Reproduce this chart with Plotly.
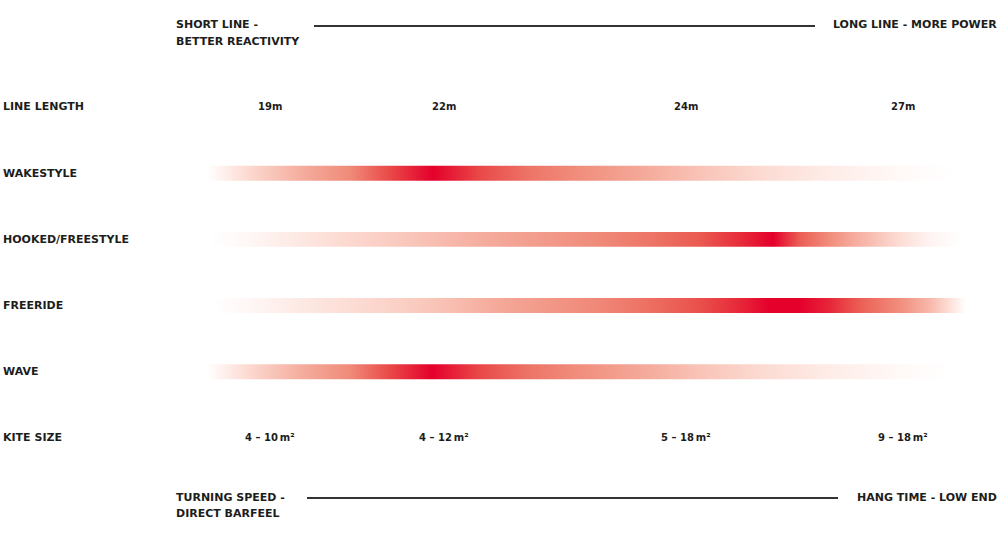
import plotly.graph_objects as go
from plotly.colors import sample_colorscale

# Row labels (top to bottom) and column headers
row_labels = ["LINE LENGTH", "WAKESTYLE", "HOOKED/FREESTYLE", "FREERIDE", "WAVE", "KITE SIZE"]
line_lengths = ["19m", "22m", "24m", "27m"]
kite_sizes = ["4 – 10\u2009m²", "4 – 12\u2009m²", "5 – 18\u2009m²", "9 – 18\u2009m²"]
column_x = [270, 444, 686, 903]

# Intensity profiles of each discipline along the line-length scale (0 = none, 1 = ideal)
wakestyle_x = [207, 250, 300, 350, 390, 433, 480, 530, 580, 640, 700, 760, 830, 900, 955]
wakestyle_level = [0, 0.25, 0.45, 0.62, 0.85, 1, 0.85, 0.7, 0.6, 0.48, 0.35, 0.24, 0.12, 0.04, 0]

hooked_x = [210, 250, 300, 350, 400, 450, 490, 550, 600, 650, 700, 740, 773, 800, 830, 860, 900, 930, 962]
hooked_level = [0, 0.05, 0.15, 0.25, 0.32, 0.4, 0.47, 0.55, 0.62, 0.7, 0.8, 0.92, 1, 0.78, 0.6, 0.43, 0.22, 0.07, 0]

freeride_x = [212, 250, 300, 350, 400, 450, 500, 600, 650, 700, 740, 770, 800, 830, 860, 900, 930, 950, 966]
freeride_level = [0, 0.05, 0.14, 0.22, 0.29, 0.37, 0.48, 0.63, 0.72, 0.83, 0.93, 1, 1, 0.93, 0.78, 0.6, 0.4, 0.2, 0]

wave_x = [207, 250, 300, 350, 390, 432, 480, 530, 580, 640, 700, 760, 830, 900, 952]
wave_level = [0, 0.25, 0.45, 0.62, 0.85, 1, 0.85, 0.7, 0.6, 0.48, 0.35, 0.24, 0.12, 0.04, 0]

bars = [
    (1, wakestyle_x, wakestyle_level),
    (2, hooked_x, hooked_level),
    (3, freeride_x, freeride_level),
    (4, wave_x, wave_level),
]

RED_RAMP = [
    [0, "#ffffff"], [0.25, "#fcd8cf"], [0.45, "#f5ae9f"], [0.62, "#f08a79"],
    [0.8, "#ea5a50"], [0.9, "#e8383f"], [1, "#e4002b"],
]
TEXT = "#1d1d1b"
FONT = "DejaVu Sans"
BAR_HALF = 0.113

fig = go.Figure()

for row, xs, levels in bars:
    x0, x1 = xs[0], xs[-1]
    colors = sample_colorscale(RED_RAMP, levels)
    cs = [[(x - x0) / (x1 - x0), c] for x, c in zip(xs, colors)]
    fig.add_trace(
        go.Scatter(
            x=[x0, x1, x1, x0, x0],
            y=[row - BAR_HALF, row - BAR_HALF, row + BAR_HALF, row + BAR_HALF, row - BAR_HALF],
            mode="lines",
            line=dict(width=0),
            fill="toself",
            fillgradient=dict(type="horizontal", colorscale=cs, start=x0, stop=x1),
            hoverinfo="skip",
            showlegend=False,
        )
    )

annotations = []
for i, label in enumerate(row_labels):
    annotations.append(dict(x=1, y=i, xref="x", yref="y", text=label, xanchor="left",
                            showarrow=False, font=dict(family=FONT, size=11, color=TEXT, weight=700)))

for cx, ll, ks in zip(column_x, line_lengths, kite_sizes):
    annotations.append(dict(x=cx, y=0, xref="x", yref="y", text=ll, showarrow=False,
                            font=dict(family=FONT, size=10, color=TEXT, weight=700)))
    annotations.append(dict(x=cx, y=5, xref="x", yref="y", text=ks, showarrow=False,
                            font=dict(family=FONT, size=10, color=TEXT, weight=700)))

# header / footer captions
captions = [
    ("SHORT LINE -", 174, 25, "left"),
    ("BETTER REACTIVITY", 174, 41, "left"),
    ("LONG LINE - MORE POWER", 999, 25, "right"),
    ("TURNING SPEED -", 174, 497, "left"),
    ("DIRECT BARFEEL", 174, 513, "left"),
    ("HANG TIME - LOW END", 999, 497, "right"),
]
for text, x, py, anchor in captions:
    annotations.append(dict(x=x, y=1 - py / 550, xref="x", yref="paper", text=text,
                            xanchor=anchor, yanchor="middle", showarrow=False,
                            font=dict(family=FONT, size=11, color=TEXT, weight=700)))

shapes = [
    dict(type="line", xref="x", yref="paper", x0=314, x1=815, y0=1 - 26 / 550, y1=1 - 26 / 550,
         line=dict(color="#333333", width=2)),
    dict(type="line", xref="x", yref="paper", x0=307, x1=838, y0=1 - 498 / 550, y1=1 - 498 / 550,
         line=dict(color="#333333", width=2)),
]

fig.update_layout(
    width=1000,
    height=550,
    margin=dict(l=0, r=0, t=0, b=0),
    paper_bgcolor="white",
    plot_bgcolor="white",
    xaxis=dict(range=[0, 1000], visible=False, fixedrange=True),
    yaxis=dict(range=[6.692, -1.616], visible=False, fixedrange=True),
    annotations=annotations,
    shapes=shapes,
    showlegend=False,
)

# the page's default body margin would shift the chart by 8px
fig.write_html("out.html", config={"displayModeBar": False},
               post_script="document.body.style.margin = '0';")
